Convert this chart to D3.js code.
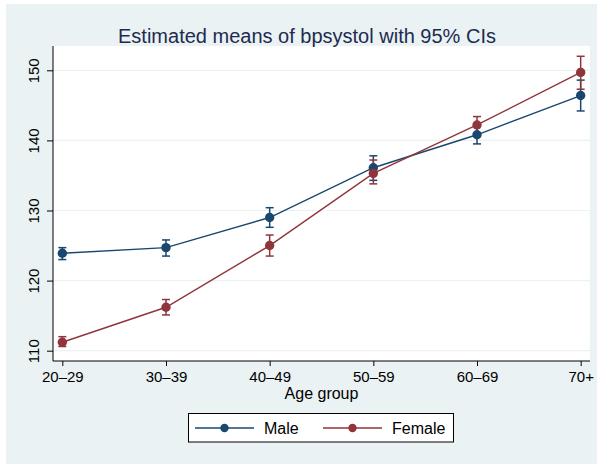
<!DOCTYPE html>
<html>
<head>
<meta charset="utf-8">
<script src="https://cdn.jsdelivr.net/npm/d3@7"></script>
<style>
  html, body { margin: 0; padding: 0; background: #ffffff; }
  svg { display: block; font-family: "Liberation Sans", Arial, sans-serif; }
</style>
</head>
<body>
<svg id="chart" width="598" height="464"></svg>
<script>
// Age groups on the x axis
const categories = ["20–29", "30–39", "40–49", "50–59", "60–69", "70+"];

// Estimated means of bpsystol and 95% confidence limits
const maleMean  = [123.9, 124.7, 129.0, 136.1, 140.8, 146.4];
const maleLow   = [123.0, 123.5, 127.6, 134.3, 139.5, 144.2];
const maleHigh  = [124.7, 125.8, 130.4, 137.8, 142.0, 148.6];

const femaleMean = [111.2, 116.2, 125.0, 135.3, 142.2, 149.7];
const femaleLow  = [110.6, 115.1, 123.5, 133.8, 141.0, 147.3];
const femaleHigh = [112.0, 117.3, 126.5, 137.2, 143.4, 152.0];

const yTicks = [110, 120, 130, 140, 150];

const series = [
  { name: "Male",   color: "#1a476f", mean: maleMean,   low: maleLow,   high: maleHigh },
  { name: "Female", color: "#90353b", mean: femaleMean, low: femaleLow, high: femaleHigh }
];

const svg = d3.select("#chart");
const bg = "#eaf2f3";

// Graph region
svg.append("rect").attr("x", 6).attr("y", 4).attr("width", 591).attr("height", 460).attr("fill", bg);

// Plot region
const plot = { left: 53, right: 590, top: 46, bottom: 361 };
svg.append("rect")
  .attr("x", plot.left).attr("y", plot.top)
  .attr("width", plot.right - plot.left).attr("height", plot.bottom - plot.top)
  .attr("fill", "#ffffff");

const x = d3.scalePoint().domain(categories).range([plot.left, plot.right]).padding(0.09);
const y = d3.scaleLinear().domain([110, 150]).range([350.7, 70.3]);

// Horizontal grid lines
svg.append("g").selectAll("line").data(yTicks).join("line")
  .attr("x1", plot.left).attr("x2", plot.right)
  .attr("y1", d => y(d)).attr("y2", d => y(d))
  .attr("stroke", bg).attr("stroke-width", 1.2);

// Axes
const yAxis = d3.axisLeft(y).tickValues(yTicks).tickSize(6).tickPadding(8).tickFormat(d3.format("d"));
const gy = svg.append("g").attr("transform", `translate(${plot.left},0)`).call(yAxis);
gy.select(".domain").attr("d", `M0,${plot.top}V${plot.bottom}`).attr("stroke", "#000");
gy.selectAll(".tick line").attr("stroke", "#000");
gy.selectAll(".tick text")
  .attr("transform", "rotate(-90)")
  .attr("x", 0).attr("y", -15).attr("dy", 0)
  .attr("text-anchor", "middle")
  .attr("font-size", 15).attr("fill", "#000")
  .attr("font-family", "Liberation Sans, Arial, sans-serif");
// re-place rotated labels at each tick position
gy.selectAll(".tick").each(function () {
  const t = d3.select(this).select("text");
  t.attr("transform", "rotate(-90)").attr("x", 0).attr("y", -14.5);
});

const xAxis = d3.axisBottom(x).tickSize(5).tickPadding(6);
const gx = svg.append("g").attr("transform", `translate(0,${plot.bottom})`).call(xAxis);
gx.select(".domain").attr("d", `M${plot.left},0H${plot.right}`).attr("stroke", "#000");
gx.selectAll(".tick line").attr("stroke", "#000");
gx.selectAll(".tick text")
  .attr("dy", 0).attr("y", 21)
  .attr("font-size", 15).attr("fill", "#000")
  .attr("font-family", "Liberation Sans, Arial, sans-serif");

// Axis title
svg.append("text").attr("x", (plot.left + plot.right) / 2).attr("y", 399)
  .attr("text-anchor", "middle").attr("font-size", 16).attr("fill", "#000")
  .text("Age group");

// Title
svg.append("text").attr("x", 307).attr("y", 43)
  .attr("text-anchor", "middle").attr("font-size", 20).attr("fill", "#1e2b4f")
  .text("Estimated means of bpsystol with 95% CIs");

// Confidence intervals
const capW = 4;
series.forEach(s => {
  const g = svg.append("g").attr("stroke", s.color).attr("stroke-width", 1.5).attr("fill", "none");
  categories.forEach((c, i) => {
    const cx = x(c);
    g.append("line").attr("x1", cx).attr("x2", cx).attr("y1", y(s.low[i])).attr("y2", y(s.high[i]));
    g.append("line").attr("x1", cx - capW).attr("x2", cx + capW).attr("y1", y(s.low[i])).attr("y2", y(s.low[i]));
    g.append("line").attr("x1", cx - capW).attr("x2", cx + capW).attr("y1", y(s.high[i])).attr("y2", y(s.high[i]));
  });
});

// Connected means
const line = d3.line().x((d, i) => x(categories[i])).y(d => y(d));
series.forEach(s => {
  svg.append("path").attr("d", line(s.mean))
    .attr("fill", "none").attr("stroke", s.color).attr("stroke-width", 1.4);
  svg.append("g").selectAll("circle").data(s.mean).join("circle")
    .attr("cx", (d, i) => x(categories[i])).attr("cy", d => y(d))
    .attr("r", 4.7).attr("fill", s.color);
});

// Legend
const leg = svg.append("g");
leg.append("rect").attr("x", 188.5).attr("y", 413.5).attr("width", 265).attr("height", 28.5)
  .attr("fill", "#ffffff").attr("stroke", "#000").attr("stroke-width", 1);
const legItems = [
  { s: series[0], x1: 195, x2: 254, tx: 264 },
  { s: series[1], x1: 323, x2: 382, tx: 392 }
];
legItems.forEach(it => {
  leg.append("line").attr("x1", it.x1).attr("x2", it.x2).attr("y1", 428).attr("y2", 428)
    .attr("stroke", it.s.color).attr("stroke-width", 1.4);
  leg.append("circle").attr("cx", (it.x1 + it.x2) / 2).attr("cy", 428).attr("r", 4.2).attr("fill", it.s.color);
  leg.append("text").attr("x", it.tx).attr("y", 433.5).attr("font-size", 16).attr("fill", "#000").text(it.s.name);
});
</script>
</body>
</html>
